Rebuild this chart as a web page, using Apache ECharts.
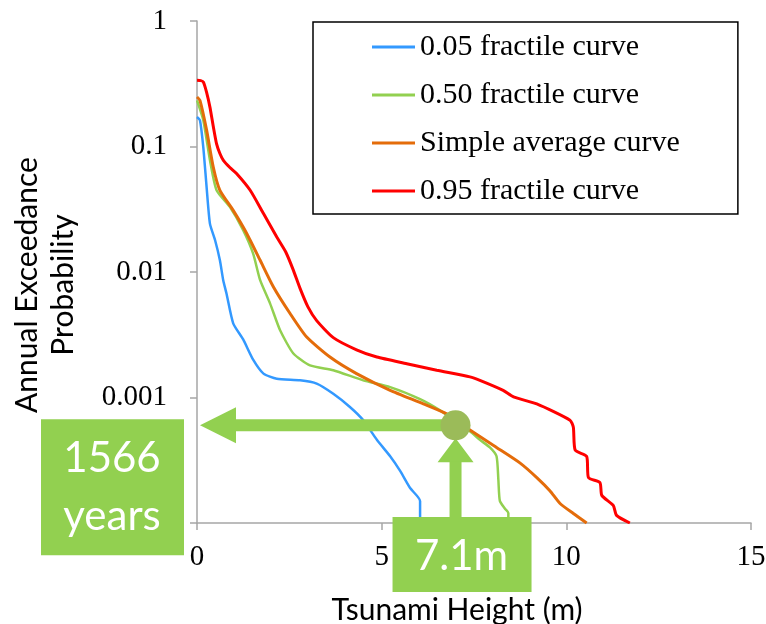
<!DOCTYPE html>
<html>
<head>
<meta charset="utf-8">
<script src="https://cdn.jsdelivr.net/npm/echarts@6/dist/echarts.min.js"></script>
<style>
  html, body { margin: 0; padding: 0; background: #fff; }
  #chart { width: 766px; height: 624px; }
</style>
</head>
<body>
<div id="chart"></div>
<script>
// series names
const seriesNames = ['0.05 fractile curve', '0.50 fractile curve', 'Simple average curve', '0.95 fractile curve']

// 0.05 fractile
const p05X = [0, 0.08, 0.17, 0.26, 0.35, 0.49, 0.62, 0.71, 0.80, 0.98, 1.25, 1.52, 1.80, 2.16, 2.79, 3.24, 3.69, 4.14, 4.50, 4.87, 5.23, 5.50, 5.77, 6.04, 6.04]
const p05Y = [0.172, 0.162, 0.099, 0.0475, 0.0243, 0.0179, 0.0124, 0.0086, 0.0067, 0.0039, 0.0029, 0.0020, 0.00155, 0.00141, 0.00137, 0.00129, 0.00107, 0.00084, 0.00066, 0.00046, 0.00034, 0.00026, 0.00019, 0.00015, 0.0001]

// 0.50 fractile
const p50X = [0, 0.17, 0.35, 0.53, 0.89, 1.25, 1.52, 1.71, 1.98, 2.25, 2.61, 3.06, 3.69, 4.50, 5.23, 6.04, 6.58, 7.10, 7.45, 7.66, 7.93, 8.11, 8.16, 8.20, 8.34, 8.43, 8.43]
const p50Y = [0.233, 0.162, 0.078, 0.0448, 0.033, 0.0215, 0.014, 0.0086, 0.0056, 0.00343, 0.00224, 0.0018, 0.00165, 0.00137, 0.00121, 0.00097, 0.00079, 0.00062, 0.00052, 0.00046, 0.0004, 0.00034, 0.00022, 0.00015, 0.00013, 0.00012, 0.0001]

// simple average
const avgX = [0, 0.08, 0.26, 0.44, 0.62, 0.98, 1.35, 1.71, 2.07, 2.52, 2.97, 3.60, 4.32, 5.23, 6.13, 6.76, 7.39, 8.11, 8.75, 9.20, 9.56, 9.83, 10.19, 10.55]
const avgY = [0.248, 0.233, 0.135, 0.0687, 0.0448, 0.031, 0.0202, 0.0124, 0.0076, 0.00467, 0.00303, 0.0021, 0.00155, 0.00114, 0.00089, 0.00074, 0.00055, 0.0004, 0.0003, 0.00023, 0.00018, 0.000143, 0.000119, 0.0001]

// 0.95 fractile
const p95X = [0, 0.10, 0.17, 0.26, 0.35, 0.44, 0.53, 0.62, 0.71, 0.89, 1.07, 1.44, 1.80, 2.16, 2.40, 2.60, 2.79, 3.00, 3.24, 3.69, 4.32, 4.87, 5.68, 6.49, 7.39, 7.66, 8.29, 8.57, 9.20, 10.10, 10.19, 10.24, 10.55, 10.60, 10.91, 10.96, 11.27, 11.36, 11.72]
const p95Y = [0.337, 0.335, 0.327, 0.27, 0.206, 0.145, 0.105, 0.088, 0.078, 0.068, 0.061, 0.0448, 0.0292, 0.019, 0.0145, 0.0105, 0.0074, 0.0053, 0.0041, 0.0030, 0.0024, 0.0021, 0.00186, 0.00165, 0.00146, 0.00137, 0.00114, 0.00101, 0.00089, 0.00066, 0.00058, 0.00038, 0.00034, 0.00023, 0.00021, 0.000166, 0.000138, 0.000115, 0.0001]

// tick labels
const xTicks = [0, 5, 10, 15]
const yTickLabels = { 1: '1', 0.1: '0.1', 0.01: '0.01', 0.001: '0.001' }

// annotation (marker point, labels)
const annotX = 7.0
const annotP = 0.0006
const heightLabel = '7.1m'
const periodLabel = '1566\nyears'

const colors = ['#3399FF', '#92D050', '#E46C0A', '#FF0000']
const widths = [2.5, 2.5, 3, 3]

const pairs = (xs, ys) => xs.map((x, i) => [x, ys[i]])
const allData = [pairs(p05X, p05Y), pairs(p50X, p50Y), pairs(avgX, avgY), pairs(p95X, p95Y)]

const serif = 'Liberation Serif'
const sans = 'Lato'

const chart = echarts.init(document.getElementById('chart'))

const option = {
    animation: false,
    grid: { left: 197, right: 15, top: 21, bottom: 101, outerBoundsMode: 'none' },
    legend: {
        orient: 'vertical',
        left: 313,
        top: 22,
        padding: [10, 58, 8, 59],
        itemGap: 18,
        itemWidth: 43,
        itemHeight: 3,
        icon: 'rect',
        borderColor: '#000',
        borderWidth: 1.5,
        textStyle: { fontFamily: serif, fontSize: 30, color: '#000', lineHeight: 30 },
        data: seriesNames
    },
    xAxis: {
        type: 'value',
        min: 0,
        max: 15,
        interval: 5,
        name: 'Tsunami Height (m)',
        nameLocation: 'middle',
        nameGap: 72,
        nameTextStyle: { fontFamily: sans, fontSize: 30, color: '#000', padding: [0, 34, 0, 0] },
        axisLine: { lineStyle: { color: '#A6A6A6', width: 1.5 } },
        axisTick: { show: true, length: 7, lineStyle: { color: '#A6A6A6', width: 1.5 } },
        axisLabel: {
            fontFamily: serif, fontSize: 29, color: '#000', margin: 20,
            formatter: v => xTicks.includes(v) ? String(v) : ''
        },
        splitLine: { show: false }
    },
    yAxis: {
        type: 'log',
        logBase: 10,
        min: 0.0001,
        max: 1,
        axisLine: { show: true, lineStyle: { color: '#A6A6A6', width: 1.5 } },
        axisTick: { show: true, length: 7, lineStyle: { color: '#A6A6A6', width: 1.5 } },
        axisLabel: {
            fontFamily: serif, fontSize: 29, color: '#000', margin: 30,
            formatter: v => {
                for (const k in yTickLabels) {
                    if (Math.abs(Math.log10(v) - Math.log10(+k)) < 1e-6) return yTickLabels[k]
                }
                return ''
            }
        },
        minorTick: { show: false },
        splitLine: { show: false }
    },
    series: seriesNames.map((name, i) => ({
        name: name,
        type: 'line',
        data: allData[i],
        symbol: 'none',
        smooth: 0.2,
        color: colors[i],
        lineStyle: { color: colors[i], width: widths[i] },
        z: 2 + i
    }))
}
chart.setOption(option)

// annotation arrows and boxes, placed through the chart's own scales
const pt = chart.convertToPixel({ gridIndex: 0 }, [annotX, annotP])
const origin = chart.convertToPixel({ gridIndex: 0 }, [0, 0.0001])
const cx = pt[0]
const cy = pt[1]
const green = '#92D050'

chart.setOption({
    graphic: [
        // y axis title
        {
            type: 'text',
            x: 45,
            y: 285,
            rotation: Math.PI / 2,
            z: 50,
            style: {
                text: 'Annual Exceedance\nProbability',
                font: '30px ' + sans,
                fill: '#000',
                align: 'center',
                verticalAlign: 'middle',
                lineHeight: 36
            }
        },
        // horizontal arrow
        { type: 'rect', z: 100, shape: { x: origin[0] + 39, y: cy - 6, width: cx - origin[0] - 45, height: 12 }, style: { fill: green } },
        { type: 'polygon', z: 100, shape: { points: [[origin[0] + 3, cy], [origin[0] + 39, cy - 18], [origin[0] + 39, cy + 18]] }, style: { fill: green } },
        // vertical arrow
        { type: 'polygon', z: 100, shape: { points: [[cx, cy + 13], [cx - 18, cy + 37], [cx + 18, cy + 37]] }, style: { fill: green } },
        { type: 'rect', z: 100, shape: { x: cx - 6, y: cy + 36, width: 12, height: origin[1] - cy - 40 }, style: { fill: green } },
        // marker
        { type: 'circle', z: 101, shape: { cx: cx, cy: cy, r: 15 }, style: { fill: '#9BBB59' } },
        // boxes
        {
            type: 'rect', z: 102,
            shape: { x: origin[0] - 156, y: cy - 6, width: 143, height: 136 },
            style: { fill: green }
        },
        {
            type: 'text', z: 103,
            x: origin[0] - 85, y: cy + 62,
            style: { text: periodLabel, font: '42px ' + sans, fill: '#fff', align: 'center', verticalAlign: 'middle', lineHeight: 58 }
        },
        {
            type: 'rect', z: 102,
            shape: { x: cx - 63, y: origin[1] - 6, width: 139, height: 75 },
            style: { fill: green }
        },
        {
            type: 'text', z: 103,
            x: cx + 6, y: origin[1] + 33,
            style: { text: heightLabel, font: '42px ' + sans, fill: '#fff', align: 'center', verticalAlign: 'middle' }
        }
    ]
})
</script>
</body>
</html>
